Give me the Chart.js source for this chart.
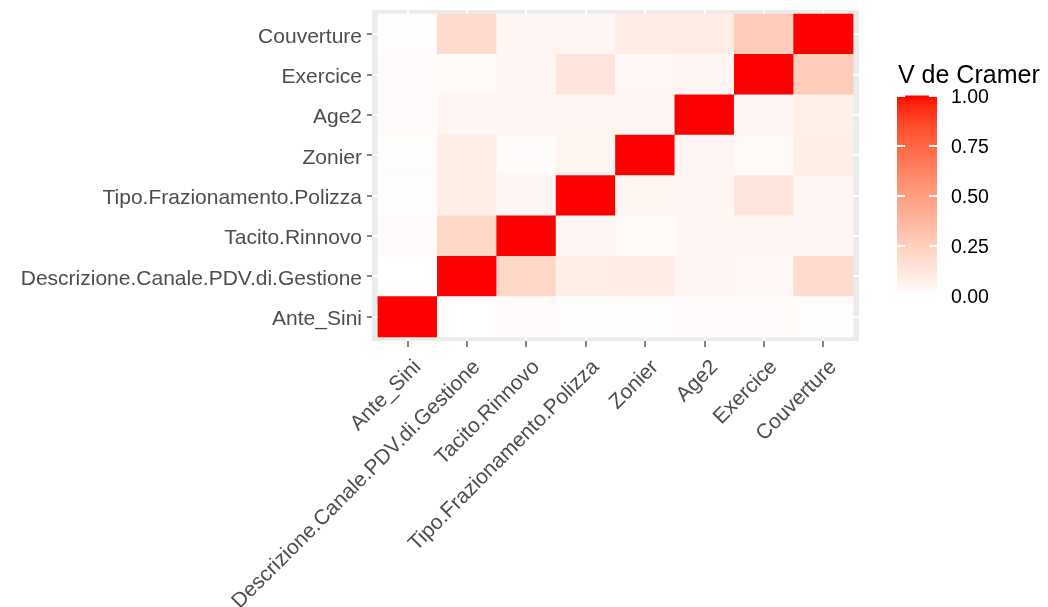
<!DOCTYPE html>
<html>
<head>
<meta charset="utf-8">
<script src="https://cdn.jsdelivr.net/npm/chart.js@4.4.0/dist/chart.umd.min.js"></script>
<style>
  html, body { margin: 0; padding: 0; background: #ffffff; }
  #wrap { width: 1048px; height: 607px; position: relative; }
</style>
</head>
<body>
<div id="wrap"><canvas id="chart" width="1048" height="607"></canvas></div>
<script>
// Variables, in axis order (bottom-to-top on y, left-to-right on x)
const variables = [
  'Ante_Sini',
  'Descrizione.Canale.PDV.di.Gestione',
  'Tacito.Rinnovo',
  'Tipo.Frazionamento.Polizza',
  'Zonier',
  'Age2',
  'Exercice',
  'Couverture'
];

// Cramér's V of each row variable against every column variable
const vAnteSini    = [1.00, 0.00, 0.02, 0.01, 0.01, 0.02, 0.02, 0.015];
const vDescrizione = [0.00, 1.00, 0.21, 0.09, 0.10, 0.05, 0.04, 0.19];
const vTacito      = [0.02, 0.21, 1.00, 0.05, 0.03, 0.05, 0.05, 0.05];
const vTipo        = [0.01, 0.09, 0.05, 1.00, 0.06, 0.05, 0.13, 0.05];
const vZonier      = [0.01, 0.09, 0.02, 0.06, 1.00, 0.05, 0.03, 0.09];
const vAge2        = [0.02, 0.05, 0.05, 0.05, 0.05, 1.00, 0.05, 0.08];
const vExercice    = [0.02, 0.03, 0.05, 0.14, 0.04, 0.05, 1.00, 0.27];
const vCouverture  = [0.01, 0.19, 0.05, 0.05, 0.10, 0.10, 0.27, 1.00];

const rowValues = [vAnteSini, vDescrizione, vTacito, vTipo, vZonier, vAge2, vExercice, vCouverture];

// Colour bar scale
const legendTitle = 'V de Cramer';
const legendTicks = [0, 0.25, 0.5, 0.75, 1];

const FONT = "'Liberation Sans', Arial, Helvetica, sans-serif";

// ---- white -> red gradient interpolated in CIE Lab ----
function toLin(c) { c /= 255; return c <= 0.04045 ? c / 12.92 : Math.pow((c + 0.055) / 1.055, 2.4); }
function toSrgb(c) {
  c = c <= 0.0031308 ? 12.92 * c : 1.055 * Math.pow(c, 1 / 2.4) - 0.055;
  return Math.round(Math.max(0, Math.min(1, c)) * 255);
}
function rgbToLab(rgb) {
  const R = toLin(rgb[0]), G = toLin(rgb[1]), B = toLin(rgb[2]);
  const X = (0.4124564 * R + 0.3575761 * G + 0.1804375 * B) / 0.95047;
  const Y = (0.2126729 * R + 0.7151522 * G + 0.0721750 * B);
  const Z = (0.0193339 * R + 0.1191920 * G + 0.9503041 * B) / 1.08883;
  const f = t => t > 216 / 24389 ? Math.cbrt(t) : (24389 / 27 * t + 16) / 116;
  const fx = f(X), fy = f(Y), fz = f(Z);
  return [116 * fy - 16, 500 * (fx - fy), 200 * (fy - fz)];
}
function labToRgb(lab) {
  const fy = (lab[0] + 16) / 116, fx = fy + lab[1] / 500, fz = fy - lab[2] / 200;
  const inv = t => { const t3 = t * t * t; return t3 > 216 / 24389 ? t3 : (116 * t - 16) / (24389 / 27); };
  const X = inv(fx) * 0.95047, Y = inv(fy), Z = inv(fz) * 1.08883;
  const R =  3.2404542 * X - 1.5371385 * Y - 0.4985314 * Z;
  const G = -0.9692660 * X + 1.8760108 * Y + 0.0415560 * Z;
  const B =  0.0556434 * X - 0.2040259 * Y + 1.0572252 * Z;
  return [toSrgb(R), toSrgb(G), toSrgb(B)];
}
const LOW = rgbToLab([255, 255, 255]);
const HIGH = rgbToLab([255, 0, 0]);
function fillColor(v) {
  const t = Math.max(0, Math.min(1, v));
  const c = labToRgb([0, 1, 2].map(i => LOW[i] + (HIGH[i] - LOW[i]) * t));
  return `rgb(${c[0]},${c[1]},${c[2]})`;
}

// One floating-bar dataset per row: each tile spans [row-0.5, row+0.5]
const datasets = rowValues.map((vals, r) => ({
  label: variables[r],
  data: vals.map((v, c) => ({ x: c, y: [r - 0.5, r + 0.5] })),
  backgroundColor: vals.map(fillColor),
  borderWidth: 0,
  grouped: false,
  barPercentage: 1,
  categoryPercentage: 1
}));

const indexTicks = () => variables.map((_, i) => ({ value: i }));

// Grey panel behind the tiles, plus the colour bar legend
const panelAndLegend = {
  id: 'panelAndLegend',
  beforeDraw(chart) {
    const { ctx, chartArea: a } = chart;
    ctx.save();
    ctx.fillStyle = '#ffffff';
    ctx.fillRect(0, 0, chart.width, chart.height);
    ctx.fillStyle = '#EBEBEB';
    ctx.fillRect(a.left, a.top, a.right - a.left, a.bottom - a.top);
    ctx.restore();
  },
  afterDraw(chart) {
    const { ctx } = chart;
    const sc = chart.scales.cbar;
    const x0 = 897, w = 40;
    const nbin = 300;
    ctx.save();
    for (let i = 0; i < nbin; i++) {
      const v0 = i / nbin, v1 = (i + 1) / nbin;
      const ya = sc.getPixelForValue(v1), yb = sc.getPixelForValue(v0);
      ctx.fillStyle = fillColor((v0 + v1) / 2);
      ctx.fillRect(x0, ya - 0.5, w, yb - ya + 1);
    }
    // white tick marks on both edges of the bar
    ctx.strokeStyle = '#ffffff';
    ctx.lineWidth = 1.8;
    legendTicks.forEach(t => {
      const y = sc.getPixelForValue(t);
      ctx.beginPath();
      ctx.moveTo(x0, y); ctx.lineTo(x0 + 8, y);
      ctx.moveTo(x0 + w - 8, y); ctx.lineTo(x0 + w, y);
      ctx.stroke();
    });
    // legend title
    ctx.fillStyle = '#000000';
    ctx.font = `25px ${FONT}`;
    ctx.textAlign = 'left';
    ctx.textBaseline = 'alphabetic';
    ctx.fillText(legendTitle, 898, 83);
    ctx.restore();
  }
};

new Chart(document.getElementById('chart'), {
  type: 'bar',
  data: { datasets },
  plugins: [panelAndLegend],
  options: {
    responsive: false,
    animation: false,
    events: [],
    layout: { padding: { top: 10, left: 0, right: 0, bottom: 0 } },
    plugins: { legend: { display: false }, tooltip: { enabled: false }, title: { display: false } },
    scales: {
      x: {
        type: 'linear',
        position: 'bottom',
        min: -0.6,
        max: 7.6,
        offset: false,
        afterBuildTicks: ax => { ax.ticks = indexTicks(); },
        afterFit: ax => { ax.height = 266; ax.paddingLeft = 0; ax.paddingRight = 0; },
        border: { display: false },
        grid: { offset: false, color: '#ffffff', lineWidth: 2, drawTicks: true, tickLength: 6, tickColor: '#333333', tickWidth: 1.2 },
        ticks: {
          autoSkip: false,
          minRotation: 45,
          maxRotation: 45,
          padding: 8,
          labelOffset: 10,
          color: '#4D4D4D',
          font: { family: FONT, size: 21 },
          callback: v => variables[v]
        }
      },
      y: {
        type: 'linear',
        position: 'left',
        min: -0.6,
        max: 7.6,
        afterBuildTicks: ax => { ax.ticks = indexTicks(); },
        afterFit: ax => { ax.width = 372; ax.paddingTop = 0; ax.paddingBottom = 0; },
        border: { display: false },
        grid: { offset: false, color: '#ffffff', lineWidth: 2, drawTicks: true, tickLength: 5, tickColor: '#333333', tickWidth: 1.2 },
        ticks: {
          autoSkip: false,
          padding: 5,
          labelOffset: 2.5,
          color: '#4D4D4D',
          font: { family: FONT, size: 21 },
          callback: v => variables[v]
        }
      },
      cbar: {
        type: 'linear',
        axis: 'y',
        position: 'right',
        min: -0.225,
        max: 1.43,
        afterBuildTicks: ax => { ax.ticks = legendTicks.map(v => ({ value: v })); },
        afterFit: ax => { ax.width = 189; ax.paddingTop = 0; ax.paddingBottom = 0; },
        border: { display: false },
        grid: { display: false, drawTicks: false },
        ticks: {
          padding: 92,
          labelOffset: 2,
          color: '#000000',
          font: { family: FONT, size: 19.5 },
          callback: v => v.toFixed(2)
        }
      }
    }
  }
});
</script>
</body>
</html>
